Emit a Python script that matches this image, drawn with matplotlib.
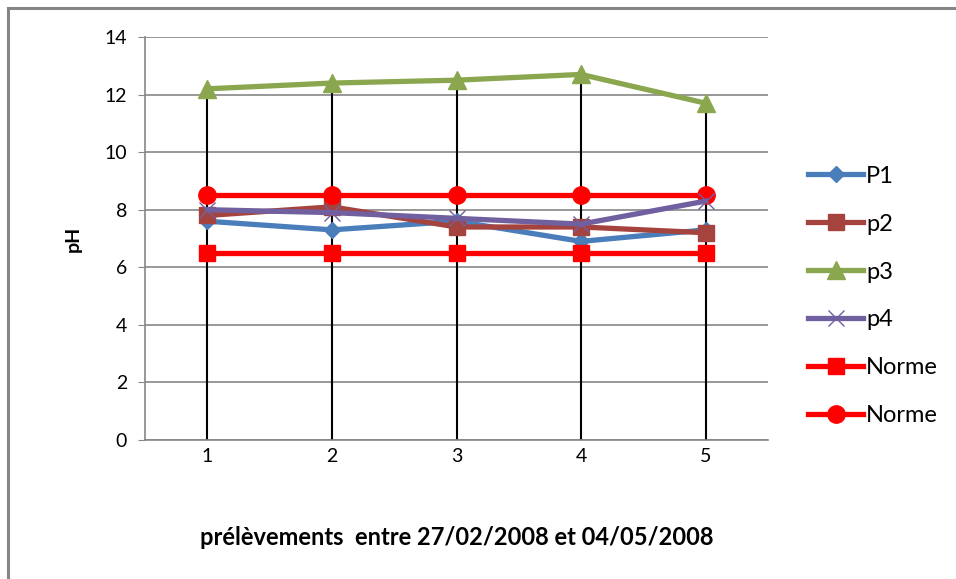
import matplotlib
matplotlib.use("Agg")
import matplotlib.pyplot as plt
from matplotlib.patches import Rectangle

categories = [1, 2, 3, 4, 5]
p1 = [7.6, 7.3, 7.6, 6.9, 7.3]
p2 = [7.8, 8.1, 7.4, 7.4, 7.2]
p3 = [12.2, 12.4, 12.5, 12.7, 11.7]
p4 = [8.0, 7.9, 7.7, 7.5, 8.3]
norme_min = [6.5, 6.5, 6.5, 6.5, 6.5]
norme_max = [8.5, 8.5, 8.5, 8.5, 8.5]
yticks = [0, 2, 4, 6, 8, 10, 12, 14]

plt.rcParams['font.family'] = ['Lato', 'DejaVu Sans']

W, H = 956, 579
fig = plt.figure(figsize=(W / 100, H / 100), dpi=100)
fig.patch.set_facecolor('white')

# outer frame (partially cropped on right/bottom)
fig.patches.append(Rectangle((8 / W, -0.05), 1.1, (H - 8) / H + 0.05, transform=fig.transFigure,
                             fill=False, edgecolor='#868686', linewidth=2.2))

ax = fig.add_axes([145 / W, (H - 440) / H, (768 - 145) / W, (440 - 37) / H])
ax.set_xlim(0.5, 5.5)
ax.set_ylim(0, 14)
ax.set_yticks(yticks)
ax.set_xticks(categories)
ax.yaxis.grid(True, color='#868686', linewidth=1.2)
ax.set_axisbelow(True)
for s in ['top', 'right']:
    ax.spines[s].set_visible(False)
for s in ['left', 'bottom']:
    ax.spines[s].set_color('#868686')
    ax.spines[s].set_linewidth(1.2)
ax.tick_params(axis='y', length=5, color='#868686', labelsize=14, pad=8)
ax.tick_params(axis='x', length=0, labelsize=14, pad=6)

# high-low lines
ax.vlines(categories, 0, p3, colors='black', linewidth=1.5, zorder=2)

lw = 3.8
ax.plot(categories, p1, color='#4A7EBB', marker='D', markersize=8, linewidth=lw, label='P1', zorder=3)
ax.plot(categories, p2, color='#A5443F', marker='s', markersize=12, linewidth=lw, label='p2', zorder=3)
ax.plot(categories, p3, color='#8AA74F', marker='^', markersize=13, linewidth=lw, label='p3', zorder=3)
ax.plot(categories, p4, color='#7060A0', marker='x', markersize=11, markeredgewidth=1, linewidth=lw,
        label='p4', zorder=4)
ax.plot(categories, norme_min, color='#FF0000', marker='s', markersize=12, linewidth=lw, label='Norme', zorder=3)
ax.plot(categories, norme_max, color='#FF0000', marker='o', markersize=12.5, linewidth=lw, label='Norme', zorder=3)

ax.set_ylabel('pH', fontsize=14, fontweight='bold', labelpad=16)
ax.set_xlabel('prélèvements  entre 27/02/2008 et 04/05/2008', fontsize=17, fontweight='bold', labelpad=44)

leg = fig.legend(loc='center left', bbox_to_anchor=(808 / W, (H - 296) / H), frameon=False,
                 fontsize=17, handlelength=2.33, handletextpad=0.13, labelspacing=1.14,
                 borderpad=0, borderaxespad=0)

fig.savefig('out.png', dpi=100, facecolor='white')
